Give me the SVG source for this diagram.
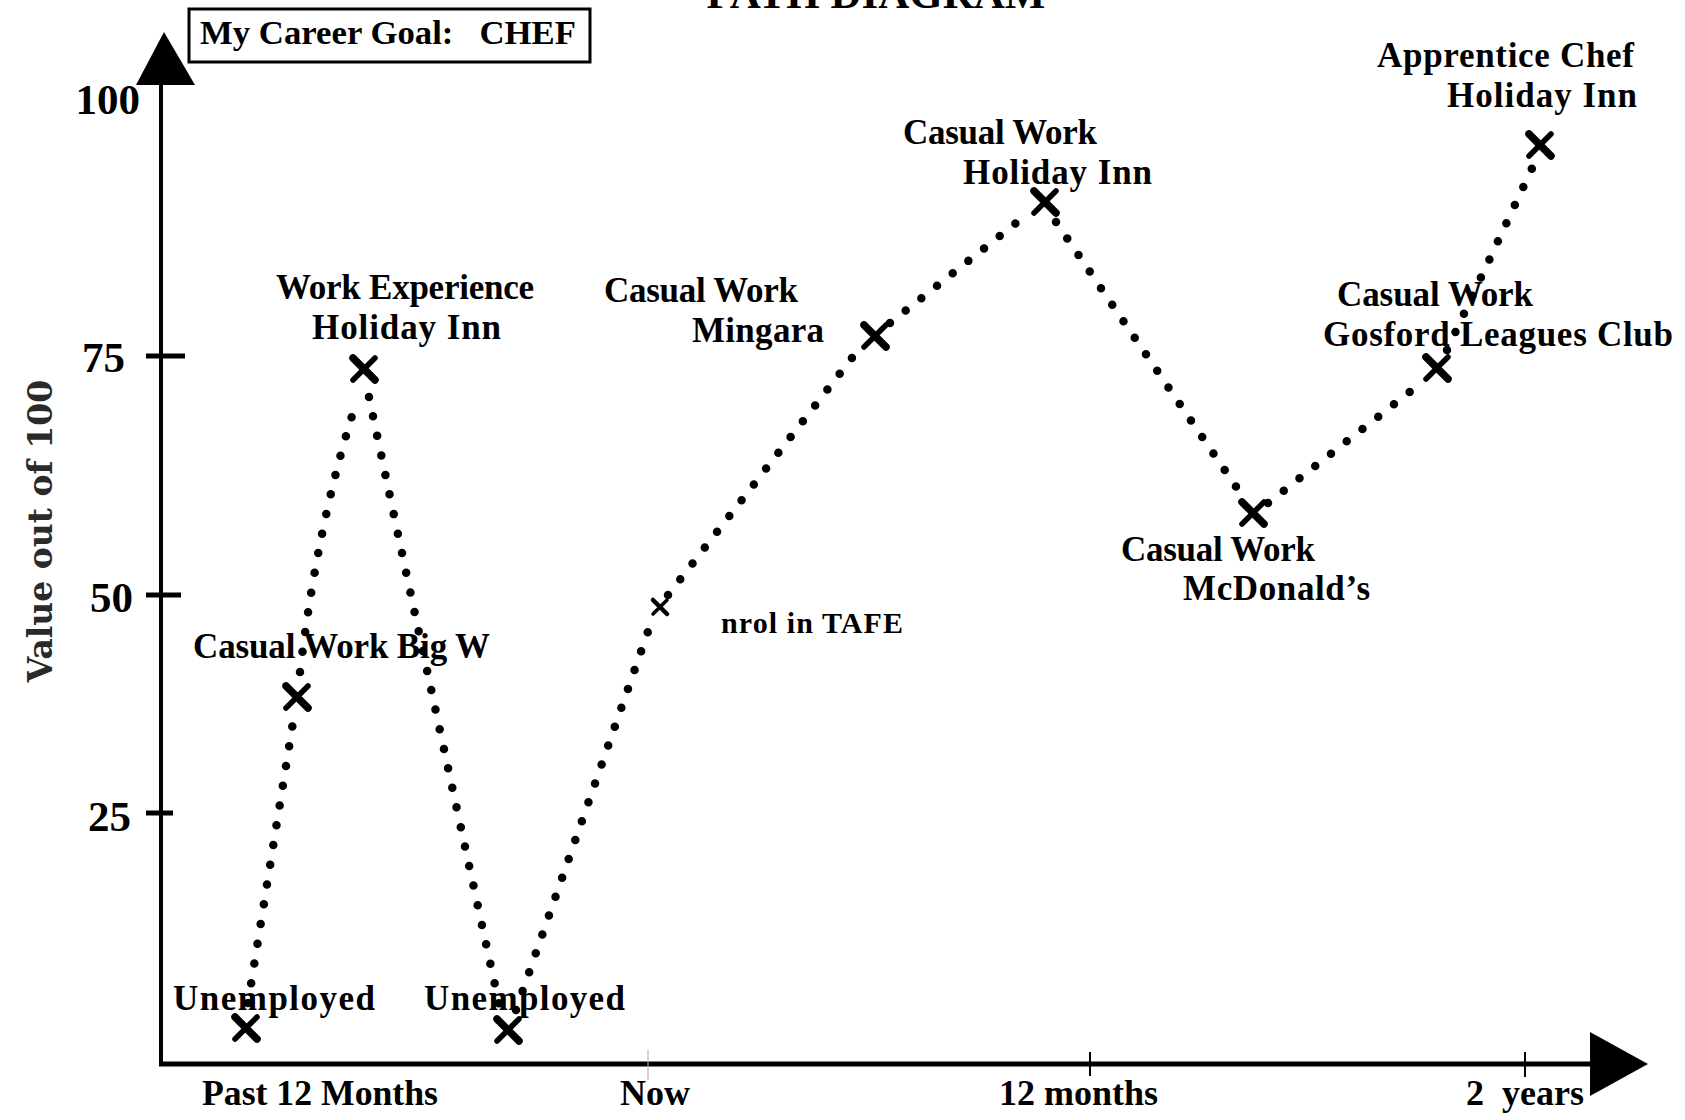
<svg xmlns="http://www.w3.org/2000/svg" width="1685" height="1120" viewBox="0 0 1685 1120">
<style>
  .lbl { font-family: "Liberation Serif", "Times New Roman", serif; font-weight: bold; font-size: 35px; fill: #000; }
  .small { font-size: 30px; }
  .ax { font-family: "Liberation Serif", "Times New Roman", serif; font-weight: bold; font-size: 36px; fill: #000; }
  .num { font-family: "Liberation Serif", "Times New Roman", serif; font-weight: bold; font-size: 43px; fill: #000; text-anchor: end; }
  .ylab { font-family: "DejaVu Serif", serif; font-weight: bold; font-size: 33px; fill: #2a2a2a; text-anchor: middle; }
  .axis { stroke: #000; fill: none; }
  .dots { stroke: #000; stroke-width: 8.5; stroke-linecap: round; stroke-dasharray: 0 20; fill: none; }
  .xm { stroke: #000; stroke-linecap: round; fill: none; }
</style>
<defs>
  <g id="xmark">
    <line class="xm" x1="-11" y1="-11" x2="11" y2="11" stroke-width="7.5"/>
    <line class="xm" x1="11" y1="-11" x2="-11" y2="11" stroke-width="5.5"/>
  </g>
  <g id="xsmall">
    <line class="xm" x1="-7" y1="-7" x2="7" y2="7" stroke-width="4.5"/>
    <line class="xm" x1="7" y1="-7" x2="-7" y2="7" stroke-width="3.5"/>
  </g>
</defs>
<rect width="1685" height="1120" fill="#fff"/>

<!-- title (mostly cut off at top) -->
<text class="ax" x="876" y="8" text-anchor="middle" style="font-size:43px">PATH DIAGRAM</text>

<!-- career goal box -->
<g id="goal">
  <rect x="189" y="9" width="401" height="53" fill="#fff" stroke="#000" stroke-width="3"/>
  <text class="ax" x="200" y="44" style="font-size:34px" xml:space="preserve" textLength="376" lengthAdjust="spacingAndGlyphs">My Career Goal:   CHEF</text>
</g>

<!-- axes -->
<g id="axes">
  <line class="axis" x1="161" y1="80" x2="161" y2="1066" stroke-width="4"/>
  <polygon points="164,32 136,85 195,85" fill="#000"/>
  <line class="axis" x1="159" y1="1064" x2="1594" y2="1064" stroke-width="5"/>
  <polygon points="1590,1032 1648,1064 1590,1096" fill="#000"/>
  <line class="axis" x1="146" y1="356" x2="185" y2="356" stroke-width="5"/>
  <line class="axis" x1="146" y1="595" x2="181" y2="595" stroke-width="5"/>
  <line class="axis" x1="146" y1="813" x2="173" y2="813" stroke-width="5"/>
  <line x1="648" y1="1050" x2="648" y2="1080" stroke="#aaa" stroke-width="1"/>
  <line class="axis" x1="1090" y1="1052" x2="1090" y2="1076" stroke-width="2"/>
  <line class="axis" x1="1525" y1="1052" x2="1525" y2="1077" stroke-width="2"/>
  <text class="num" x="140" y="114">100</text>
  <text class="num" x="125" y="372">75</text>
  <text class="num" x="133" y="612">50</text>
  <text class="num" x="131" y="831">25</text>
  <text class="ylab" transform="translate(52,531) rotate(-90)">Value out of 100</text>
  <text class="ax" x="202" y="1105" textLength="236" lengthAdjust="spacingAndGlyphs">Past 12 Months</text>
  <text class="ax" x="620" y="1105">Now</text>
  <text class="ax" x="999" y="1105">12 months</text>
  <text class="ax" x="1466" y="1105" xml:space="preserve">2  years</text>
</g>

<!-- nodes -->
<g id="n1-unemployed">
  <text class="lbl" x="173" y="1010" textLength="202" lengthAdjust="spacing">Unemployed</text>
  <use href="#xmark" x="246" y="1028"/>
</g>
<g id="n2-bigw">
  <text class="lbl" x="193" y="658" textLength="297" lengthAdjust="spacing">Casual Work Big W</text>
  <use href="#xmark" x="297" y="697"/>
</g>
<g id="n3-workexp">
  <text class="lbl" x="276" y="299" textLength="258" lengthAdjust="spacing">Work Experience</text>
  <text class="lbl" x="312" y="339" textLength="189" lengthAdjust="spacing">Holiday Inn</text>
  <use href="#xmark" x="364" y="369"/>
</g>
<g id="n4-unemployed">
  <text class="lbl" x="424" y="1010" textLength="201" lengthAdjust="spacing">Unemployed</text>
  <use href="#xmark" x="508" y="1030"/>
</g>
<g id="n5-tafe">
  <text class="lbl small" x="721" y="633" textLength="182" lengthAdjust="spacing">nrol in TAFE</text>
  <use href="#xsmall" x="660" y="607"/>
</g>
<g id="n6-mingara">
  <text class="lbl" x="604" y="302" textLength="194" lengthAdjust="spacing">Casual Work</text>
  <text class="lbl" x="692" y="342" textLength="132" lengthAdjust="spacing">Mingara</text>
  <use href="#xmark" x="875" y="336"/>
</g>
<g id="n7-holidayinn">
  <text class="lbl" x="903" y="144" textLength="194" lengthAdjust="spacing">Casual Work</text>
  <text class="lbl" x="963" y="184" textLength="189" lengthAdjust="spacing">Holiday Inn</text>
  <use href="#xmark" x="1045" y="202"/>
</g>
<g id="n8-mcdonalds">
  <text class="lbl" x="1121" y="561" textLength="194" lengthAdjust="spacing">Casual Work</text>
  <text class="lbl" x="1183" y="600" textLength="187" lengthAdjust="spacing">McDonald’s</text>
  <use href="#xmark" x="1253" y="513"/>
</g>
<g id="n9-gosford">
  <text class="lbl" x="1337" y="306" textLength="196" lengthAdjust="spacing">Casual Work</text>
  <text class="lbl" x="1323" y="346" textLength="350" lengthAdjust="spacing">Gosford Leagues Club</text>
  <use href="#xmark" x="1437" y="368"/>
</g>
<g id="n10-apprentice">
  <text class="lbl" x="1377" y="67" textLength="257" lengthAdjust="spacing">Apprentice Chef</text>
  <text class="lbl" x="1447" y="107" textLength="190" lengthAdjust="spacing">Holiday Inn</text>
  <use href="#xmark" x="1540" y="145"/>
</g>

<!-- connectors -->
<g id="connectors" class="dots">
  <path d="M248,1003 L294,716"/>
  <path d="M300,672 Q318,520 357,400"/>
  <path d="M369,397 Q420,640 500,1008"/>
  <path d="M516,1010 L652,620"/>
  <path d="M668,595 L862,345"/>
  <path d="M890,323 L1030,212"/>
  <path d="M1056,222 L1243,497"/>
  <path d="M1268,503 L1425,380"/>
  <path d="M1447,350 L1535,162"/>
</g>
</svg>
